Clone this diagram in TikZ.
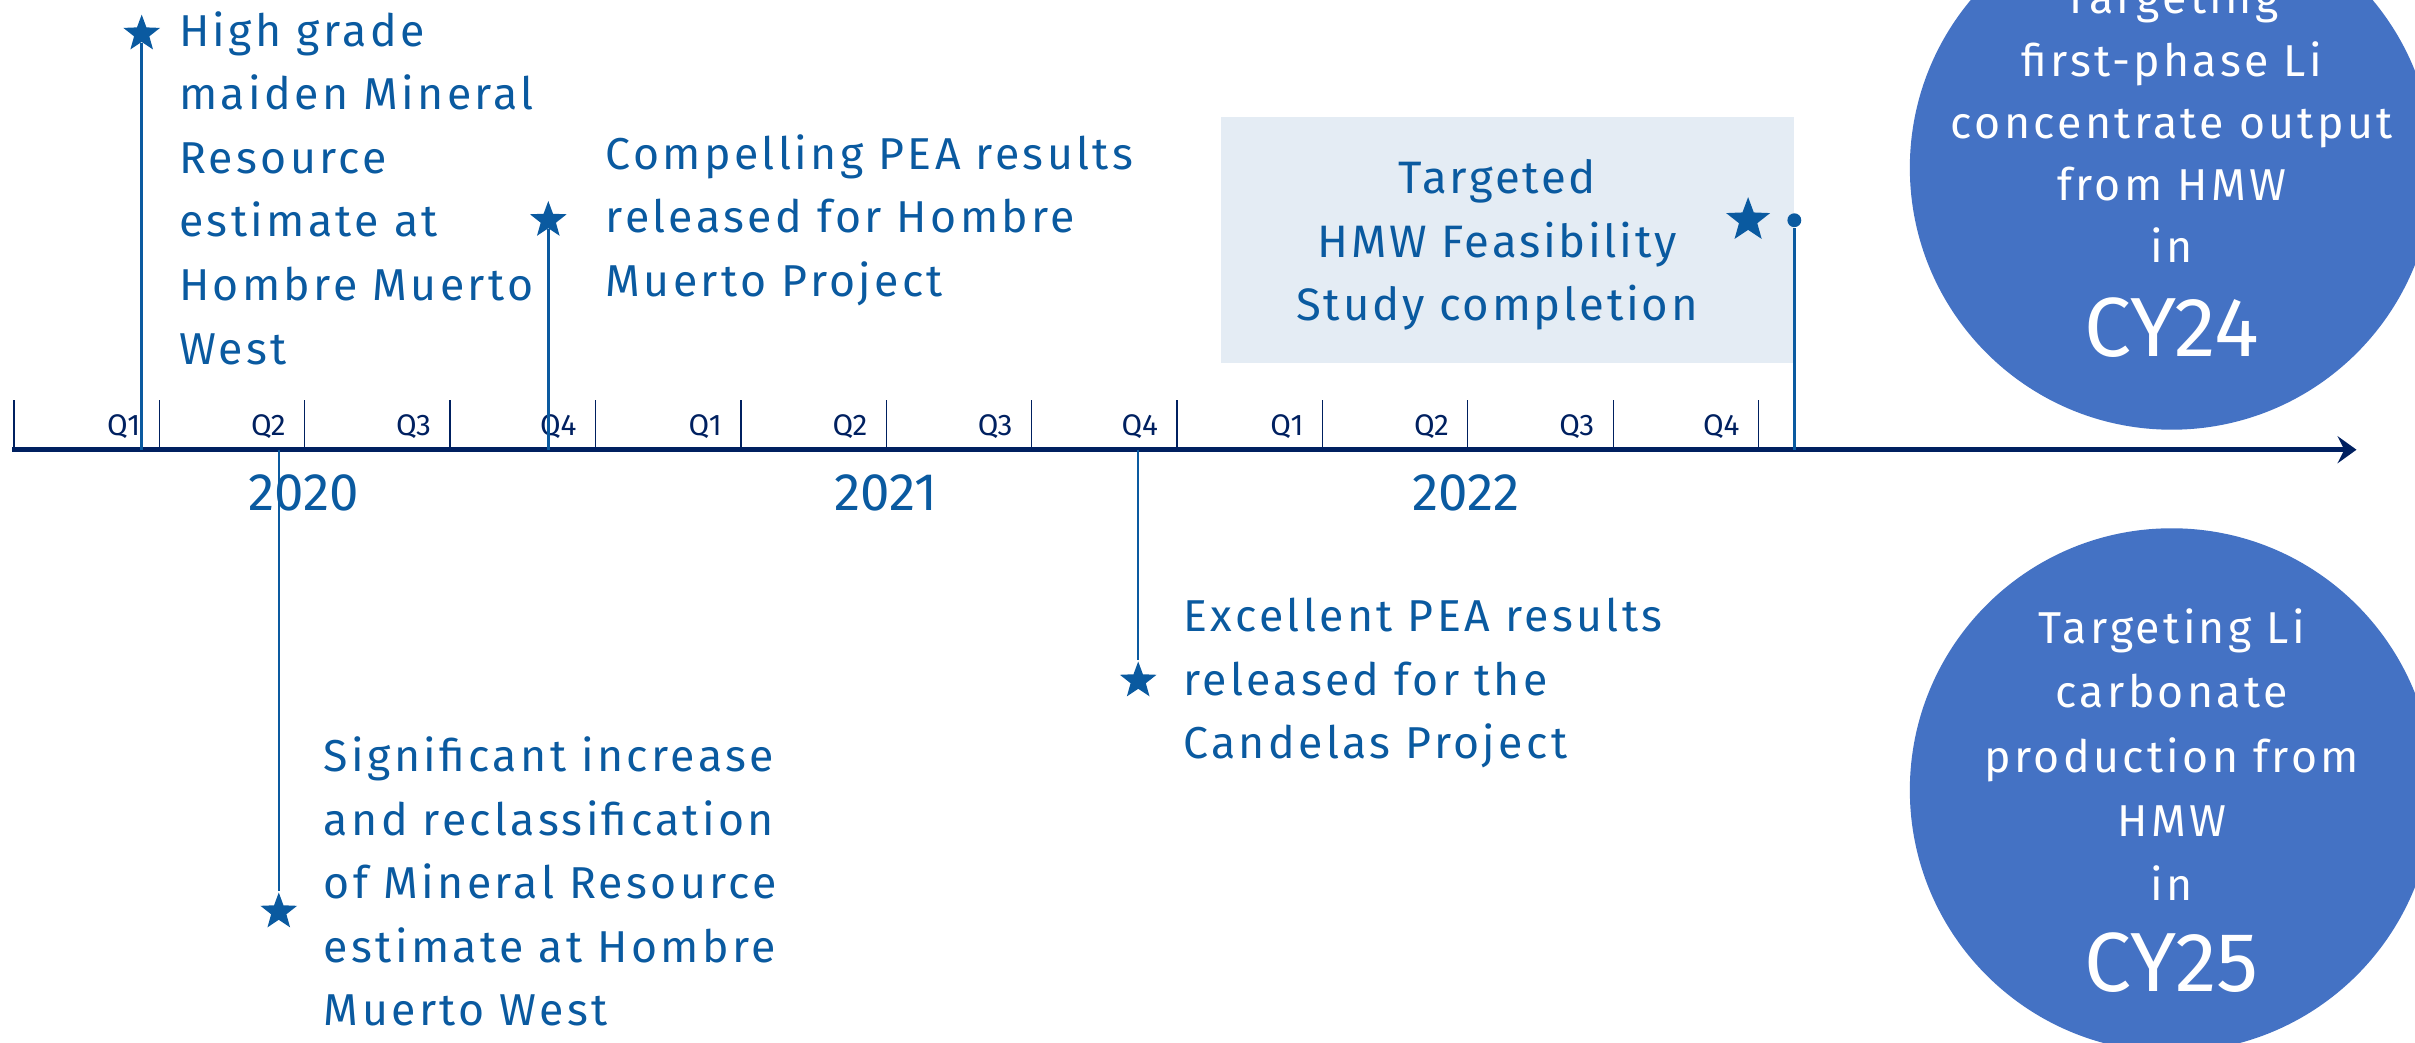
\documentclass[tikz,border=0pt]{standalone}
\usepackage{fontspec}
\setmainfont{Fira Sans}[LetterSpace=7.5]
\usetikzlibrary{arrows.meta,shapes.geometric}

\definecolor{navy}{RGB}{0,32,96}
\definecolor{evblue}{RGB}{10,90,160}
\definecolor{boxfill}{RGB}{228,236,244}
\definecolor{circblue}{RGB}{68,114,196}

\begin{document}
\begin{tikzpicture}
        [evtext/.style={anchor=north west, align=left, inner sep=0pt, text=evblue, font=\fontsize{16.5}{23.5}\selectfont},
        evstar/.style={star, star points=5, star point ratio=2.4, fill=evblue, inner sep=0pt, minimum size=0.5cm},
        evline/.style={evblue, line width=0.9pt},
        qlabel/.style={anchor=east, inner sep=0pt, text=navy, font=\fontsize{11}{13}\selectfont\addfontfeatures{LetterSpace=0}},
        year/.style={text=evblue, inner sep=0pt, font=\fontsize{19.5}{24}\selectfont\addfontfeatures{LetterSpace=0}},
        bigdisc/.style={circle, fill=circblue, minimum size=6.8cm, inner sep=0pt},
        disctext/.style={anchor=north, align=center, inner sep=0pt, text=white, font=\fontsize{16.5}{23}\selectfont},
        cytext/.style={text=white, inner sep=0pt, font=\fontsize{31}{38}\selectfont\addfontfeatures{LetterSpace=0}}]
        \useasboundingbox (0,0) rectangle (31.36,13.54);
        \clip (0,0) rectangle (31.36,13.54);

        % target discs on the right
        \node[bigdisc] (d24) at (28.2,11.36) {};
        \node[bigdisc] (d25) at (28.2,3.28) {};
        \node[disctext] (t24) at (28.2,13.82) {Targeting\\first-phase Li\\concentrate output\\from HMW\\in};
        \node[cytext] (cy24) at (28.2,9.28) {CY24};
        \node[disctext, font=\fontsize{16.5}{23.7}\selectfont] (t25) at (28.2,5.64) {Targeting Li\\carbonate\\production from\\HMW\\in};
        \node[cytext] (cy25) at (28.2,1.04) {CY25};

        % feasibility study box
        \node[fill=boxfill, minimum width=7.44cm, minimum height=3.2cm, inner sep=0pt] (fsbox) at (19.58,10.42) {};
        \node[align=center, inner sep=0pt, text=evblue, font=\fontsize{16.8}{23.6}\selectfont\addfontfeatures{LetterSpace=6}] (fstext) at (19.44,10.36) {Targeted\\HMW Feasibility\\Study completion};

        % time axis with quarters
        \coordinate (axstart) at (0.16,7.70);
        \coordinate (axend) at (30.6,7.70);
        \foreach \i in {0,...,12}
            \draw[navy, line width=0.5pt] ({0.18+1.888*\i},7.70) -- ++(0,0.64);
        \foreach \i in {0,...,11} {
            \pgfmathtruncatemacro\q{mod(\i,4)+1}
            \node[qlabel] (q\i) at ({0.18+1.888*(\i+1)-0.24},8.0) {Q\q};
        }
        \draw[navy, line width=2pt, -{Stealth[length=7pt,width=10pt,inset=2.5pt]}] (axstart) -- (axend);

        \node[year] (y2020) at (3.94,7.14) {2020};
        \node[year] (y2021) at (11.5,7.14) {2021};
        \node[year] (y2022) at (19.04,7.14) {2022};

        % milestones
        \node[evstar] (s1) at (1.84,13.10) {};
        \node[evstar] (s2) at (7.12,10.68) {};
        \node[evstar] (s3) at (3.62,1.70) {};
        \node[evstar] (s4) at (14.78,4.70) {};
        \node[evstar, minimum size=0.6cm] (s5) at (22.70,10.68) {};
        \node[circle, fill=evblue, minimum size=0.18cm, inner sep=0pt] (fsdot) at (23.30,10.68) {};

        \coordinate (a1) at (1.84,7.70);
        \coordinate (a2) at (7.12,7.70);
        \coordinate (a3) at (3.62,7.70);
        \coordinate (a4) at (14.78,7.70);
        \coordinate (a5) at (23.30,7.70);

        \draw[evline] (a1) -- (s1);
        \draw[evline] (a2) -- (s2);
        \draw[evline] (a3) -- (s3);
        \draw[evline] (a4) -- (s4);
        \draw[evline] (a5) -- (fsdot);

        \node[evtext] (t1) at (2.32,13.40) {High grade\\maiden Mineral\\Resource\\estimate at\\Hombre Muerto\\West};
        \node[evtext] (t2) at (7.86,11.80) {Compelling PEA results\\released for Hombre\\Muerto Project};
        \node[evtext] (t3) at (4.20,3.98) {Significant increase\\and reclassification\\of Mineral Resource\\estimate at Hombre\\Muerto West};
        \node[evtext] (t4) at (15.36,5.78) {Excellent PEA results\\released for the\\Candelas Project};

    \end{tikzpicture}
\end{document}
